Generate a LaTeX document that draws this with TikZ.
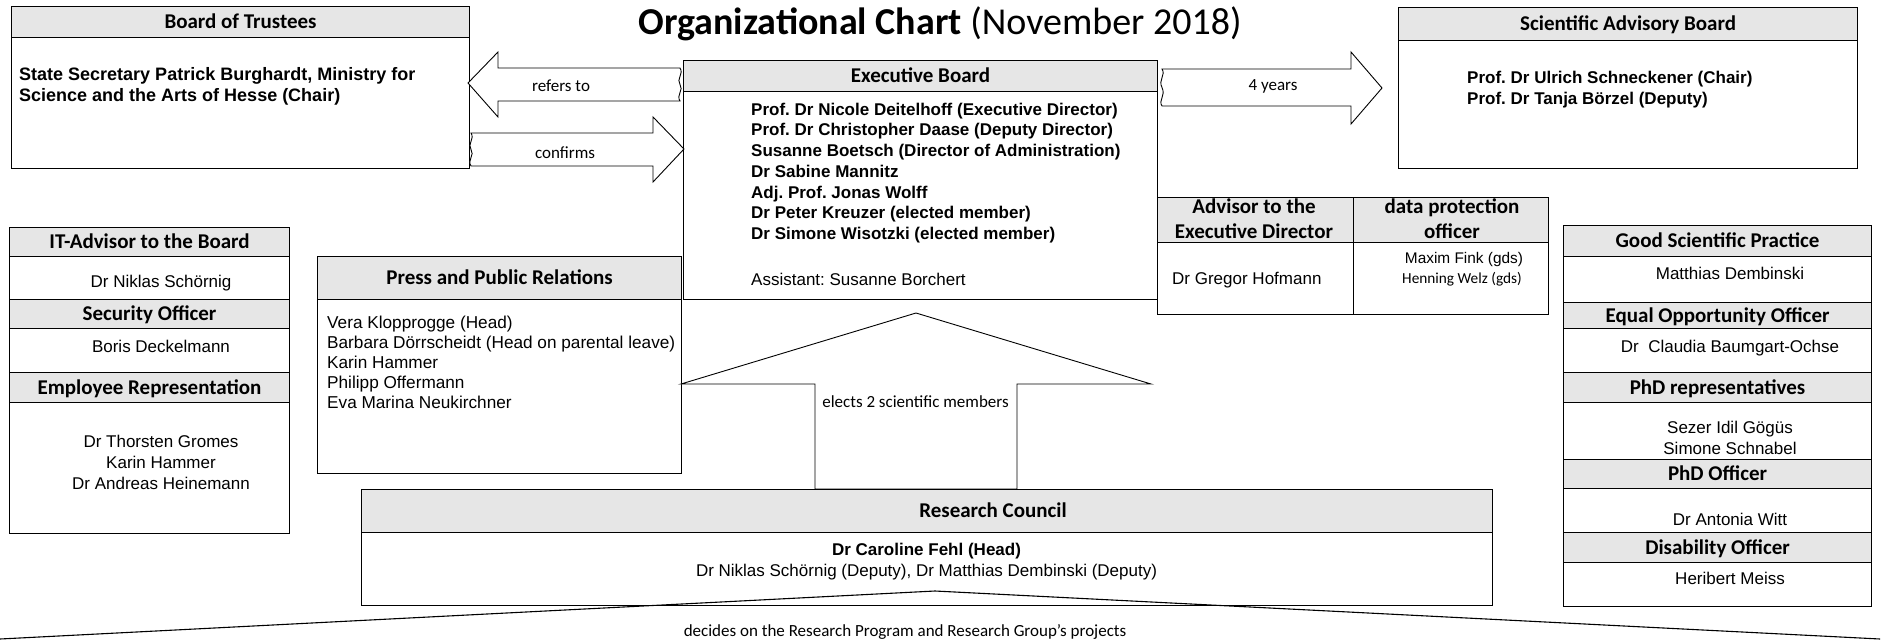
\documentclass[tikz,border=0pt]{standalone}
\usepackage{fontspec}
\setmainfont{Liberation Sans}
\newfontfamily\calfont{Carlito}
\definecolor{hgray}{RGB}{230,230,230}
\frenchspacing

\begin{document}
\begin{tikzpicture}
      [   x=1pt,y=-1pt,
          hdr/.style={draw=black,fill=hgray,line width=1.1pt,anchor=north west,inner sep=0pt,
            font=\calfont\bfseries\fontsize{21}{25}\selectfont,text height=13.3pt,text depth=0pt},
          cell/.style={draw=black,fill=white,line width=1.1pt,anchor=north west,inner sep=0pt},
          htxt/.style={inner sep=0pt,anchor=base,font=\calfont\bfseries\fontsize{21}{25}\selectfont},
          txt/.style={inner sep=0pt,font=\fontsize{17}{20.7}\selectfont},
          btxt/.style={inner sep=0pt,font=\bfseries\fontsize{17}{20.7}\selectfont},
          lbl/.style={inner sep=0pt,anchor=base,font=\calfont\fontsize{17}{20}\selectfont},
          barrow/.style={draw=black,fill=white,line width=0.9pt},
      ]
          \useasboundingbox (0,0) rectangle (1897,640);

          \node[inner sep=0pt,anchor=base,font=\calfont\fontsize{38}{44}\selectfont] (title) at (940,34)
            {\textbf{Organizational Chart} (November 2018)};

          \node[hdr,minimum width=458,minimum height=31] (bothead) at (11,6) {Board of Trustees};
          \node[cell,minimum width=458,minimum height=131] (botbody) at (11,37) {};
          \node[btxt,anchor=north west,align=left,font=\bfseries\fontsize{18}{21}\selectfont] (botnames) at (19,67.5)
            {State Secretary Patrick Burghardt, Ministry for\\Science and the Arts of Hesse (Chair)};

          \node[hdr,minimum width=459,minimum height=33] (sabhead) at (1398,7) {Scientific Advisory Board};
          \node[cell,minimum width=459,minimum height=128] (sabbody) at (1398,40) {};
          \node[btxt,anchor=north west,align=left,font=\bfseries\fontsize{17}{21.5}\selectfont] (sabnames) at (1467,70.7)
            {Prof. Dr Ulrich Schneckener (Chair)\\Prof. Dr Tanja Börzel (Deputy)};

          \node[hdr,minimum width=474,minimum height=31] (exechead) at (683,60) {Executive Board};
          \node[cell,minimum width=474,minimum height=208] (execbody) at (683,91) {};
          \node[btxt,anchor=north west,align=left] (execnames) at (751,102.7)
            {Prof. Dr Nicole Deitelhoff (Executive Director)\\
             Prof. Dr Christopher Daase (Deputy Director)\\
             Susanne Boetsch (Director of Administration)\\
             Dr Sabine Mannitz\\
             Adj. Prof. Jonas Wolff\\
             Dr Peter Kreuzer (elected member)\\
             Dr Simone Wisotzki (elected member)};
          \node[txt,anchor=base west] (execasst) at (751,285) {Assistant: Susanne Borchert};

          \coordinate (refTip) at (468,83);
          \draw[barrow] (refTip) -- (498,52) -- (498,68) -- (680,68)
            .. controls (684,74) and (676,79) .. (680,84.5)
            .. controls (684,90) and (676,95) .. (680,101)
            -- (498,101) -- (498,117) -- cycle;
          \node[lbl] (refers) at (561,91.5) {refers to};

          \coordinate (confTip) at (684,149);
          \draw[barrow] (confTip) -- (653,182) -- (653,166) -- (471,166)
            .. controls (467,160) and (475,155) .. (471,149.5)
            .. controls (467,144) and (475,139) .. (471,133)
            -- (653,133) -- (653,117) -- cycle;
          \node[lbl] (confirms) at (565,158.5) {confirms};

          \coordinate (sabTip) at (1382,88);
          \draw[barrow] (sabTip) -- (1351,124) -- (1351,106) -- (1162,106)
            .. controls (1158,100) and (1166,96) .. (1162,87.5)
            .. controls (1158,80) and (1166,75) .. (1162,69)
            -- (1351,69) -- (1351,52) -- cycle;
          \node[lbl] (years) at (1273,90.5) {4 years};

          \node[hdr,minimum width=196,minimum height=45] (advhead) at (1157,197) {};
          \node[hdr,minimum width=195,minimum height=45] (dphead) at (1353,197) {};
          \node[cell,minimum width=196,minimum height=72] (advbody) at (1157,242) {};
          \node[cell,minimum width=195,minimum height=72] (dpbody) at (1353,242) {};
          \node[htxt] (advt1) at (1254,213.6) {Advisor to the};
          \node[htxt] (advt2) at (1254,238.6) {Executive Director};
          \node[htxt] (dpt1) at (1452,213.6) {data protection};
          \node[htxt] (dpt2) at (1452,238.6) {officer};
          \node[txt,anchor=base west] (advname) at (1172,284) {Dr Gregor Hofmann};
          \node[txt,anchor=base,font=\fontsize{15.4}{18}\selectfont] (dpname1) at (1464,263.5) {Maxim Fink (gds)};
          \node[lbl,font=\calfont\fontsize{15.3}{18}\selectfont] (dpname2) at (1462,283) {Henning Welz (gds)};

          \node[hdr,minimum width=280,minimum height=29] (ithead) at (9,227) {IT-Advisor to the Board};
          \node[cell,minimum width=280,minimum height=43] (itbody) at (9,256) {};
          \node[hdr,minimum width=280,minimum height=29] (sechead) at (9,299) {Security Officer};
          \node[cell,minimum width=280,minimum height=44] (secbody) at (9,328) {};
          \node[hdr,minimum width=280,minimum height=30] (emphead) at (9,372) {Employee Representation};
          \node[cell,minimum width=280,minimum height=131] (empbody) at (9,402) {};
          \node[txt,anchor=base] (itname) at (161,287) {Dr Niklas Schörnig};
          \node[txt,anchor=base] (secname) at (161,352) {Boris Deckelmann};
          \node[txt,anchor=north,align=center,font=\fontsize{17}{21}\selectfont] (empnames) at (161,434.7)
            {Dr Thorsten Gromes\\Karin Hammer\\Dr Andreas Heinemann};

          \node[hdr,minimum width=364,minimum height=43] (presshead) at (317,256) {Press and Public Relations};
          \node[cell,minimum width=364,minimum height=174] (pressbody) at (317,299) {};
          \node[txt,anchor=north west,align=left,font=\fontsize{17.2}{20}\selectfont] (pressnames) at (327,315.7)
            {Vera Klopprogge (Head)\\Barbara Dörrscheidt (Head on parental leave)\\Karin Hammer\\Philipp Offermann\\Eva Marina Neukirchner};

          \node[hdr,minimum width=308,minimum height=31] (gsphead) at (1563,225) {Good Scientific Practice};
          \node[cell,minimum width=308,minimum height=46] (gspbody) at (1563,256) {};
          \node[hdr,minimum width=308,minimum height=26] (eoohead) at (1563,302) {Equal Opportunity Officer};
          \node[cell,minimum width=308,minimum height=44] (eoobody) at (1563,328) {};
          \node[hdr,minimum width=308,minimum height=30] (phdrhead) at (1563,372) {PhD representatives};
          \node[cell,minimum width=308,minimum height=57] (phdrbody) at (1563,402) {};
          \node[hdr,minimum width=308,minimum height=29] (phdohead) at (1563,459) {PhD Officer};
          \node[cell,minimum width=308,minimum height=44] (phdobody) at (1563,488) {};
          \node[hdr,minimum width=308,minimum height=30] (dishead) at (1563,532) {Disability Officer};
          \node[cell,minimum width=308,minimum height=44] (disbody) at (1563,562) {};
          \node[txt,anchor=base] (gspname) at (1730,279) {Matthias Dembinski};
          \node[txt,anchor=base] (eooname) at (1730,352) {Dr\ \ Claudia Baumgart-Ochse};
          \node[txt,anchor=north,align=center,font=\fontsize{17}{21}\selectfont] (phdrnames) at (1730,420.7)
            {Sezer Idil Gögüs\\Simone Schnabel};
          \node[txt,anchor=base] (phdoname) at (1730,525) {Dr Antonia Witt};
          \node[txt,anchor=base] (disname) at (1730,584) {Heribert Meiss};

          \coordinate (electTip) at (916,313);
          \draw[barrow] (electTip) -- (1151,384) -- (1017,384) -- (1017,489) -- (815,489) -- (815,384) -- (681,384) -- cycle;
          \node[lbl] (elects) at (915.5,407.5) {elects 2 scientific members};

          \node[hdr,minimum width=1131,minimum height=43] (rchead) at (361,489) {};
          \node[htxt] (rctitle) at (993,517.2) {Research Council};
          \node[cell,minimum width=1131,minimum height=73] (rcbody) at (361,532) {};
          \node[btxt,anchor=base] (rchead1) at (926.5,555) {Dr Caroline Fehl (Head)};
          \node[txt,anchor=base] (rcdeps) at (926.5,576) {Dr Niklas Schörnig (Deputy), Dr Matthias Dembinski (Deputy)};

          \coordinate (decTip) at (935,591);
          \draw[line width=1.1pt] (0,639) -- (decTip) -- (1880,639);
          \node[lbl] (decides) at (905,636) {decides on the Research Program and Research Group’s projects};
    \end{tikzpicture}
\end{document}
